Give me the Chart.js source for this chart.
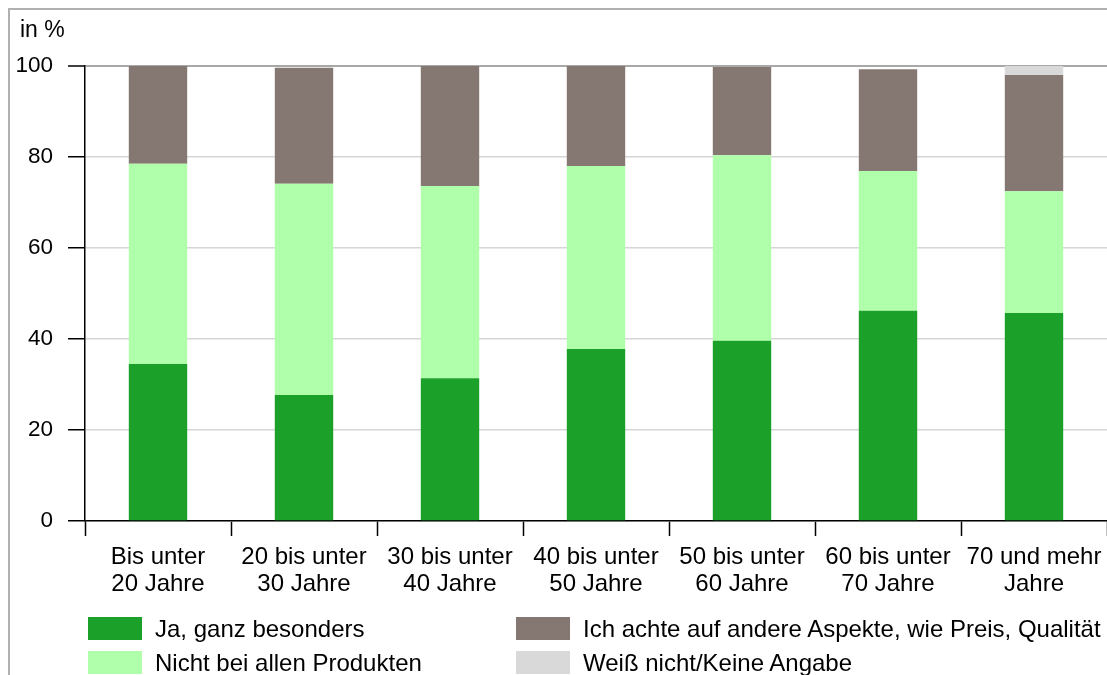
<!DOCTYPE html>
<html>
<head>
<meta charset="utf-8">
<script src="https://cdn.jsdelivr.net/npm/chart.js@4/dist/chart.umd.min.js"></script>
<style>
  html, body { margin: 0; padding: 0; background: #fff; }
  body { width: 1107px; height: 675px; position: relative; overflow: hidden; font-family: "Liberation Sans", Arial, sans-serif; color: #000; }
  #frame { position: absolute; left: 8px; top: 8px; width: 1200px; height: 800px; border-top: 2px solid #b0b0b0; border-left: 2px solid #b0b0b0; }
  #c { position: absolute; left: 0; top: 0; }
  .unit { position: absolute; left: 20px; top: 18px; font-size: 23px; line-height: 23px; }
  .lg { position: absolute; font-size: 24px; line-height: 24px; white-space: nowrap; }
  .box { position: absolute; width: 54px; height: 23px; }
</style>
</head>
<body>
<div id="frame"></div>
<canvas id="c" width="1107" height="675"></canvas>
<div class="unit">in %</div>
<div id="legend"></div>
<script>
const categories = [
  ['Bis unter', '20 Jahre'],
  ['20 bis unter', '30 Jahre'],
  ['30 bis unter', '40 Jahre'],
  ['40 bis unter', '50 Jahre'],
  ['50 bis unter', '60 Jahre'],
  ['60 bis unter', '70 Jahre'],
  ['70 und mehr', 'Jahre']
];
const seriesNames = [
  'Ja, ganz besonders',
  'Nicht bei allen Produkten',
  'Ich achte auf andere Aspekte, wie Preis, Qualität',
  'Weiß nicht/Keine Angabe'
];
const jaGanzBesonders   = [34.5, 27.7, 31.4, 37.8, 39.6, 46.2, 45.7];
const nichtBeiAllen     = [44.0, 46.4, 42.2, 40.2, 40.8, 30.7, 26.8];
const andereAspekte     = [21.5, 25.5, 26.4, 22.0, 19.4, 22.4, 25.5];
const weissNicht        = [0, 0, 0, 0, 0, 0, 2.0];
const yTicks = [0, 20, 40, 60, 80, 100];

const colors = ['#1ba02a', '#b0ffaa', '#857872', '#d9d9d9'];
const values = [jaGanzBesonders, nichtBeiAllen, andereAspekte, weissNicht];

const FONT = '"Liberation Sans", Arial, sans-serif';

new Chart(document.getElementById('c'), {
  type: 'bar',
  data: {
    labels: categories,
    datasets: values.map((v, i) => ({
      label: seriesNames[i],
      data: v,
      backgroundColor: colors[i],
      borderWidth: 0,
      categoryPercentage: 1.0,
      barPercentage: 0.4
    }))
  },
  options: {
    responsive: false,
    animation: false,
    devicePixelRatio: 1,
    layout: { padding: { top: 66, left: 0, right: 0, bottom: 0 } },
    plugins: { legend: { display: false }, tooltip: { enabled: false } },
    scales: {
      x: {
        stacked: true,
        grid: { display: true, drawOnChartArea: false, offset: true, tickLength: 15, tickColor: '#000', tickWidth: 1.5 },
        border: { display: true, color: '#000', width: 1.5 },
        ticks: { color: '#000', font: { family: FONT, size: 24, lineHeight: 1.125 }, padding: 8, maxRotation: 0, autoSkip: false },
        afterFit: (s) => { s.height = 154; s.paddingLeft = 0; s.paddingRight = 0; }
      },
      y: {
        stacked: true,
        min: 0, max: 100,
        afterBuildTicks: (s) => { s.ticks = yTicks.map(v => ({ value: v })); },
        grid: {
          color: (ctx) => (ctx.tick && ctx.tick.value === 100) ? '#a8a8a8' : '#d6d6d6',
          lineWidth: (ctx) => (ctx.tick && ctx.tick.value === 100) ? 2 : 1.5,
          tickLength: 17, tickColor: '#000', tickWidth: 1.5
        },
        border: { display: true, color: '#000', width: 1.5 },
        ticks: { color: '#000', font: { family: FONT, size: 22.5 }, padding: 15 },
        afterFit: (s) => { s.width = 85; }
      }
    }
  }
});

// HTML legend (two columns, column-major)
const legendPos = [
  { x: 88,  y: 617 },
  { x: 88,  y: 651 },
  { x: 516, y: 617 },
  { x: 516, y: 651 }
];
const lg = document.getElementById('legend');
seriesNames.forEach((name, i) => {
  const b = document.createElement('div');
  b.className = 'box';
  b.style.left = legendPos[i].x + 'px';
  b.style.top = legendPos[i].y + 'px';
  b.style.background = colors[i];
  lg.appendChild(b);
  const t = document.createElement('div');
  t.className = 'lg';
  t.textContent = name;
  t.style.left = (legendPos[i].x + 67) + 'px';
  t.style.top = (legendPos[i].y - 0.5) + 'px';
  lg.appendChild(t);
});
</script>
</body>
</html>
